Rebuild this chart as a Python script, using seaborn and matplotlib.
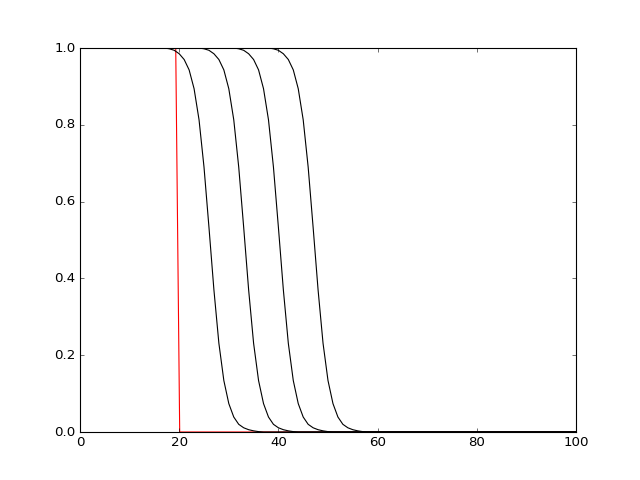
import matplotlib
matplotlib.use("Agg")
import matplotlib.pyplot as plt
import seaborn as sns
import pandas as pd

# red step curve
red_x = [0, 19.3, 20.1, 100]
red_y = [1.0, 1.0, 0.0, 0.0]

# black curves: x positions, same shape shifted by 7
x1 = [0, 17, 18, 19, 20, 21, 22, 23, 24, 25, 26, 27, 28, 29, 30, 31, 32, 33, 34, 35, 36, 37, 100]
x2 = [0, 24, 25, 26, 27, 28, 29, 30, 31, 32, 33, 34, 35, 36, 37, 38, 39, 40, 41, 42, 43, 44, 100]
x3 = [0, 31, 32, 33, 34, 35, 36, 37, 38, 39, 40, 41, 42, 43, 44, 45, 46, 47, 48, 49, 50, 51, 100]
x4 = [0, 38, 39, 40, 41, 42, 43, 44, 45, 46, 47, 48, 49, 50, 51, 52, 53, 54, 55, 56, 57, 58, 100]
y1 = [1.0, 1.0, 0.998, 0.994, 0.985, 0.970, 0.943, 0.894, 0.813, 0.690, 0.533, 0.370,
      0.231, 0.134, 0.074, 0.039, 0.020, 0.011, 0.006, 0.003, 0.001, 0.0, 0.0]
y2 = [1.0, 1.0, 0.998, 0.994, 0.985, 0.970, 0.943, 0.894, 0.813, 0.690, 0.533, 0.370,
      0.231, 0.134, 0.074, 0.039, 0.020, 0.011, 0.006, 0.003, 0.001, 0.0, 0.0]
y3 = [1.0, 1.0, 0.998, 0.994, 0.985, 0.970, 0.943, 0.894, 0.813, 0.690, 0.533, 0.370,
      0.231, 0.134, 0.074, 0.039, 0.020, 0.011, 0.006, 0.003, 0.001, 0.0, 0.0]
y4 = [1.0, 1.0, 0.998, 0.994, 0.985, 0.970, 0.943, 0.894, 0.813, 0.690, 0.533, 0.370,
      0.231, 0.134, 0.074, 0.039, 0.020, 0.011, 0.006, 0.003, 0.001, 0.0, 0.0]

plt.style.use("classic")
fig, ax = plt.subplots(figsize=(8, 6), dpi=80)
fig.patch.set_facecolor("white")

sns.lineplot(x=red_x, y=red_y, color="red", linewidth=1.0, ax=ax, sort=False)
for xs, ys in [(x1, y1), (x2, y2), (x3, y3), (x4, y4)]:
    df = pd.DataFrame({"x": xs, "y": ys})
    sns.lineplot(data=df, x="x", y="y", color="black", linewidth=1.0, ax=ax, sort=False)

ax.set_xlim(0, 100)
ax.set_ylim(0, 1)
ax.set_xlabel("")
ax.set_ylabel("")
ax.set_xticks([0, 20, 40, 60, 80, 100])
ax.set_yticks([0.0, 0.2, 0.4, 0.6, 0.8, 1.0])
ax.set_yticklabels(["0.0", "0.2", "0.4", "0.6", "0.8", "1.0"])

fig.savefig("out.png", dpi=80, facecolor="white")
